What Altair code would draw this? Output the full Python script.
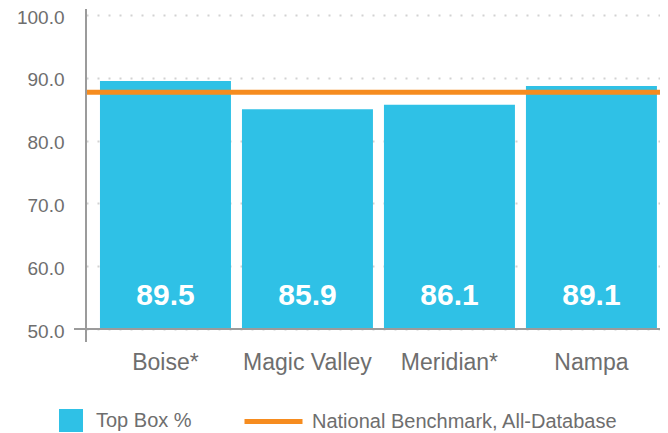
import altair as alt
import pandas as pd

# ---- data ----
sites = ["Boise*", "Magic Valley", "Meridian*", "Nampa"]
bar_values = [89.5, 85.0, 85.7, 88.7]          # bar heights as drawn
value_labels = ["89.5", "85.9", "86.1", "89.1"]  # printed values
benchmark_value = [87.7]
bar_series = "Top Box %"
bench_series = "National Benchmark, All-Database"
y_ticks = [50, 60, 70, 80, 90, 100]
y_domain = [50, 100]

# ---- style ----
W, H = 574, 314
BLUE = "#2fc1e6"
ORANGE = "#f68c1f"
GRAY = "#6e6e6e"
AXIS_GRAY = "#9b9b9b"
FONT = "Liberation Sans"

bars_df = pd.DataFrame({
    "site": sites,
    "value": bar_values,
    "label": value_labels,
    "series": [bar_series] * len(sites),
})
bench_df = pd.DataFrame({"value": benchmark_value, "series": [bench_series]})

y_scale = alt.Scale(domain=y_domain, nice=False, zero=False)
x_enc = alt.X(
    "site:N", sort=sites, title=None,
    scale=alt.Scale(paddingInner=0.0775, paddingOuter=0.06, align=0.82),
    axis=alt.Axis(domain=False, ticks=False, labelAngle=0, labelFontSize=23,
                  labelColor=GRAY, labelFont=FONT, labelPadding=22, grid=False),
)

bars = alt.Chart(bars_df).mark_bar(clip=True).encode(
    x=x_enc,
    y=alt.Y("value:Q", scale=y_scale, title=None,
            axis=alt.Axis(values=y_ticks, format=".1f", domain=False, ticks=False,
                          labelPadding=22, labelFontSize=19, labelColor=GRAY,
                          labelFont=FONT, labelOffset=2, grid=True, gridDash=[2, 9],
                          gridColor="#d2d2d2", gridWidth=2)),
    y2=alt.datum(50),
    fill=alt.Fill("series:N",
                  scale=alt.Scale(domain=[bar_series], range=[BLUE]),
                  legend=alt.Legend(title=None, orient="none", legendX=-27, legendY=394,
                                    symbolType="square", symbolSize=576,
                                    symbolStrokeWidth=0, labelFontSize=20,
                                    labelColor=GRAY, labelFont=FONT, labelLimit=0,
                                    labelOffset=13, padding=0)),
)

labels = alt.Chart(bars_df).mark_text(
    color="white", fontSize=30, fontWeight="bold", font=FONT,
    baseline="alphabetic", dy=-24,
).encode(
    x=alt.X("site:N", sort=sites),
    y=alt.datum(50),
    text="label:N",
)

bench = alt.Chart(bench_df).mark_rule(strokeWidth=5).encode(
    y=alt.Y("value:Q", scale=y_scale),
    stroke=alt.Stroke("series:N",
                      scale=alt.Scale(domain=[bench_series], range=[ORANGE]),
                      legend=alt.Legend(title=None, orient="none", legendX=156, legendY=375,
                                        symbolType="stroke", symbolSize=3364,
                                        symbolStrokeWidth=5, labelFontSize=20,
                                        labelColor=GRAY, labelFont=FONT, labelLimit=0,
                                        labelOffset=7, padding=0)),
)

y_axis_line = alt.Chart(bench_df).mark_rule(color=AXIS_GRAY, strokeWidth=2).encode(
    x=alt.value(0), y=alt.value(-6), y2=alt.value(H + 13)
)
x_axis_line = alt.Chart(bench_df).mark_rule(color=AXIS_GRAY, strokeWidth=2).encode(
    y=alt.datum(50), x=alt.value(-12), x2=alt.value(W)
)

chart = alt.layer(bars, bench, labels, x_axis_line, y_axis_line).resolve_scale(
    fill="independent", stroke="independent"
).properties(
    width=W, height=H,
    padding={"left": 78, "top": 7, "right": 0, "bottom": 103},
    autosize=alt.AutoSizeParams(type="none"),
).configure_view(stroke=None)

chart.save("out.html", embed_options={"renderer": "svg", "actions": False})
